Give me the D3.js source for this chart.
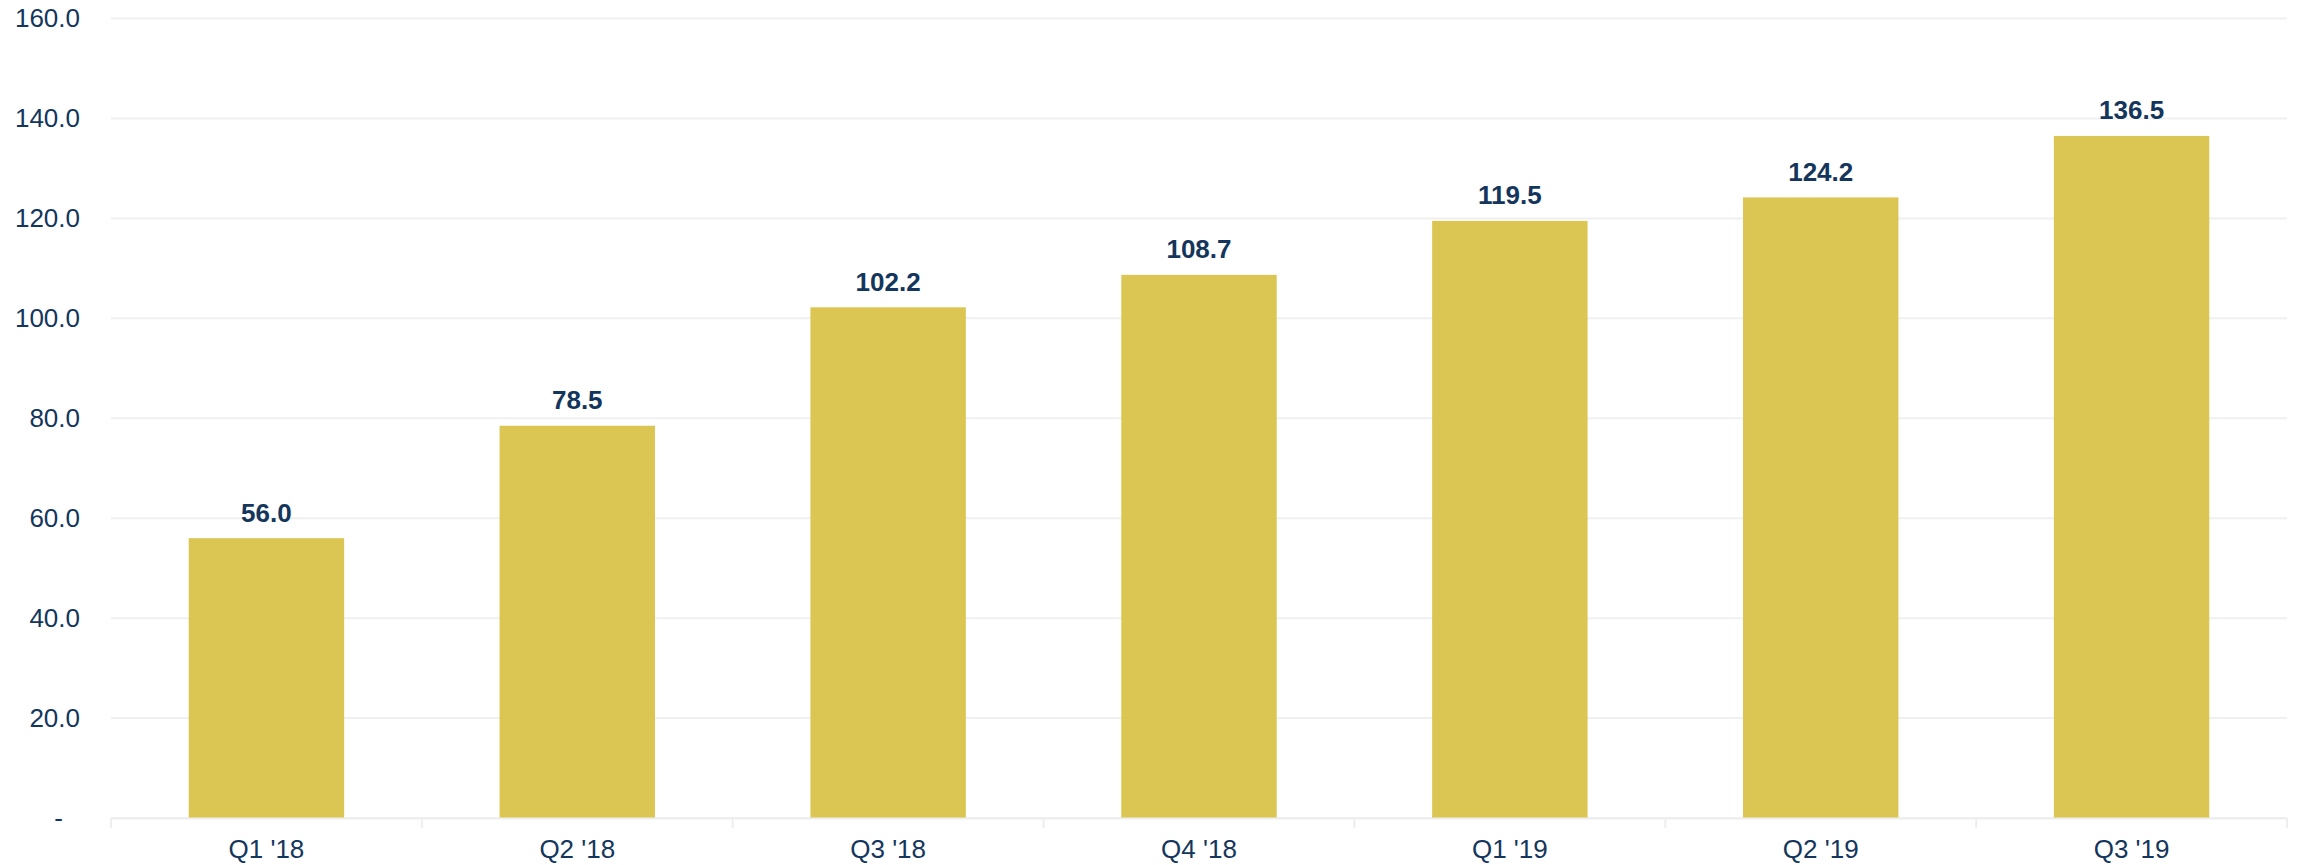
<!DOCTYPE html>
<html>
<head>
<meta charset="utf-8">
<script src="https://cdn.jsdelivr.net/npm/d3@7"></script>
<style>
  body { margin: 0; background: #fff; }
  text { font-family: "Liberation Sans", Arial, sans-serif; }
</style>
</head>
<body>
<script>
const width = 2297;
const height = 865;

const quarters = ["Q1 '18", "Q2 '18", "Q3 '18", "Q4 '18", "Q1 '19", "Q2 '19", "Q3 '19"];
const values = [56.0, 78.5, 102.2, 108.7, 119.5, 124.2, 136.5];
const yTicks = [0, 20, 40, 60, 80, 100, 120, 140, 160];

const margin = { top: 18.5, right: 10, bottom: 47, left: 111 };
const navy = "#14365c";

const svg = d3
  .select("body")
  .append("svg")
  .attr("width", width)
  .attr("height", height);

const x = d3
  .scaleBand()
  .domain(quarters)
  .range([margin.left, width - margin.right])
  .paddingInner(0.5)
  .paddingOuter(0.25);

const y = d3
  .scaleLinear()
  .domain([0, 160])
  .range([height - margin.bottom, margin.top]);

// gridlines
svg
  .append("g")
  .selectAll("line")
  .data(yTicks)
  .join("line")
  .attr("x1", margin.left)
  .attr("x2", width - margin.right)
  .attr("y1", (d) => y(d))
  .attr("y2", (d) => y(d))
  .attr("stroke", "#f0f0f0")
  .attr("stroke-width", 2);

// y axis labels
const yAxis = svg
  .append("g")
  .attr("transform", `translate(${margin.left - 31},0)`)
  .call(
    d3
      .axisLeft(y)
      .tickValues(yTicks)
      .tickSize(0)
      .tickPadding(0)
      .tickFormat((d) => (d === 0 ? "-" : d3.format(".1f")(d)))
  );
yAxis.select(".domain").remove();
yAxis
  .selectAll("text")
  .attr("fill", navy)
  .attr("font-size", 26)
  .attr("dx", (d) => (d === 0 ? -17 : 0));

// bars
svg
  .append("g")
  .selectAll("rect")
  .data(values)
  .join("rect")
  .attr("x", (d, i) => x(quarters[i]))
  .attr("width", x.bandwidth())
  .attr("y", (d) => y(d))
  .attr("height", (d) => y(0) - y(d))
  .attr("fill", "#dbc653");

// value labels
svg
  .append("g")
  .selectAll("text")
  .data(values)
  .join("text")
  .attr("x", (d, i) => x(quarters[i]) + x.bandwidth() / 2)
  .attr("y", (d) => y(d) - 16.5)
  .attr("text-anchor", "middle")
  .attr("font-size", 26)
  .attr("font-weight", "bold")
  .attr("fill", navy)
  .text((d) => d3.format(".1f")(d));

// x axis
const xAxis = svg
  .append("g")
  .attr("transform", `translate(0,${y(0)})`)
  .call(d3.axisBottom(x).tickSize(0).tickPadding(22));
xAxis.select(".domain").attr("stroke", "#eeeeee").attr("stroke-width", 2);
xAxis
  .selectAll("text")
  .attr("fill", navy)
  .attr("font-size", 26);

// small separators between categories
const bounds = quarters.map((q) => x(q) - (x.step() - x.bandwidth()) / 2);
bounds.push(width - margin.right);
xAxis
  .append("g")
  .selectAll("line")
  .data(bounds)
  .join("line")
  .attr("x1", (d) => d)
  .attr("x2", (d) => d)
  .attr("y1", 0)
  .attr("y2", 10)
  .attr("stroke", "#eeeeee")
  .attr("stroke-width", 2);
</script>
</body>
</html>
